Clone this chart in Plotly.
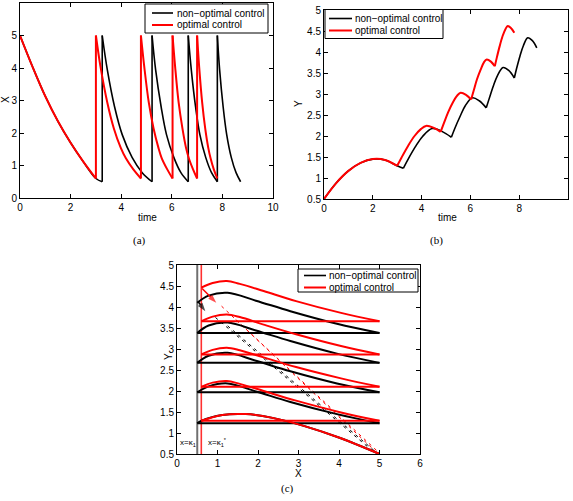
import plotly.graph_objects as go

# ---------------- data ----------------
# optimal control (red): one list per impulse segment
opt_t = [
    [0, 0.5, 1.0, 1.5, 2.0, 2.5, 3.0],
    [3.0, 3.18, 3.45, 3.71, 3.98, 4.18, 4.48, 4.78],
    [4.78, 4.91, 5.09, 5.28, 5.47, 5.6, 5.82, 6.03],
    [6.03, 6.13, 6.27, 6.42, 6.56, 6.67, 6.84, 7.0],
    [7.0, 7.08, 7.2, 7.32, 7.44, 7.53, 7.66, 7.8],
]
opt_x = [
    [5, 4.03, 3.13, 2.36, 1.7, 1.12, 0.6],
    [5, 4.05, 2.94, 2.14, 1.55, 1.23, 0.88, 0.6],
    [5, 4.05, 2.94, 2.14, 1.55, 1.23, 0.88, 0.6],
    [5, 4.05, 2.94, 2.14, 1.55, 1.23, 0.88, 0.6],
    [5, 4.05, 2.94, 2.14, 1.55, 1.23, 0.88, 0.6],
]
opt_y = [
    [0.5, 0.88, 1.17, 1.36, 1.45, 1.43, 1.29],
    [1.29, 1.49, 1.77, 2.0, 2.17, 2.24, 2.2, 2.1],
    [2.1, 2.3, 2.57, 2.8, 2.97, 3.03, 2.98, 2.87],
    [2.87, 3.07, 3.35, 3.58, 3.76, 3.82, 3.77, 3.66],
    [3.66, 3.86, 4.14, 4.38, 4.55, 4.62, 4.57, 4.46],
]
# non-optimal control (black)
non_t = [
    [0, 0.5, 1.0, 1.5, 2.0, 2.5, 3.0, 3.25],
    [3.25, 3.45, 3.74, 4.04, 4.43, 4.83, 5.22],
    [5.22, 5.36, 5.58, 5.79, 6.08, 6.36, 6.65],
    [6.65, 6.77, 6.94, 7.11, 7.34, 7.57, 7.8],
    [7.8, 7.89, 8.03, 8.17, 8.35, 8.54, 8.72],
]
non_x = [
    [5, 4.03, 3.13, 2.36, 1.7, 1.12, 0.6, 0.5],
    [5, 3.95, 2.8, 1.95, 1.25, 0.78, 0.5],
    [5, 3.95, 2.8, 1.95, 1.25, 0.78, 0.5],
    [5, 3.95, 2.8, 1.95, 1.25, 0.78, 0.5],
    [5, 3.95, 2.8, 1.95, 1.25, 0.78, 0.5],
]
non_y = [
    [0.5, 0.88, 1.17, 1.36, 1.45, 1.43, 1.29, 1.23],
    [1.23, 1.45, 1.74, 1.99, 2.18, 2.11, 1.97],
    [1.97, 2.18, 2.47, 2.72, 2.91, 2.84, 2.67],
    [2.67, 2.89, 3.19, 3.44, 3.63, 3.56, 3.38],
    [3.38, 3.6, 3.9, 4.15, 4.34, 4.27, 4.1],
]
# thresholds kappa_1 (non-optimal) and kappa_1* (optimal)
kappa_non = 0.5
kappa_opt = 0.6
# dashed guide lines in panel (c): [x0, x1], [y0, y1]
dash_non = [([0.95, 4.88], [3.75, 0.53]), ([1.25, 4.93], [3.55, 0.53])]
dash_opt = [([1.1, 4.97], [4.02, 0.5]), ([1.45, 5.0], [3.7, 0.52])]
# arrows in panel (c): ([tail x, head x], [tail y, head y])
arrow_non = ([0.52, 0.7], [4.13, 3.9])
arrow_opt = ([0.62, 0.97], [4.44, 4.1])

ticks_a_x = [0, 2, 4, 6, 8, 10]
ticks_a_y = [0, 1, 2, 3, 4, 5, 6]
ticks_b_y = [0.5, 1, 1.5, 2, 2.5, 3, 3.5, 4, 4.5, 5]
ticks_b_y_text = ["0.5", "1", "1.5", "2", "2.5", "3", "3.5", "4", "4.5", "5"]
ticks_c_x = [0, 1, 2, 3, 4, 5, 6]

LEG1 = "non\u2212optimal control"
LEG2 = "optimal control"

# ---------------- figure ----------------
W, H = 573, 501
def px(x):
    return x / W
def py(y):
    return 1 - y / H

RED = "#ff0000"
BLK = "#000000"
FONT = "Liberation Sans, Arial, sans-serif"

fig = go.Figure()

# vertical threshold lines in (c)
fig.add_trace(go.Scatter(x=[kappa_non, kappa_non], y=[0.5, 5], mode="lines",
                         line=dict(color="#707070", width=2), xaxis="x3", yaxis="y3", showlegend=False))
fig.add_trace(go.Scatter(x=[kappa_opt, kappa_opt], y=[0.5, 5], mode="lines",
                         line=dict(color="#ff3030", width=1.6), xaxis="x3", yaxis="y3", showlegend=False))

for xs, ys in dash_non:
    fig.add_trace(go.Scatter(x=xs, y=ys, mode="lines", line=dict(color=BLK, width=1, dash="3px,4px"),
                             xaxis="x3", yaxis="y3", showlegend=False))
for xs, ys in dash_opt:
    fig.add_trace(go.Scatter(x=xs, y=ys, mode="lines", line=dict(color=RED, width=1, dash="3px,4px"),
                             xaxis="x3", yaxis="y3", showlegend=False))


def add_strategy(T, X, Y, color, wa, wc):
    n = len(T)
    for k in range(n):
        sp = dict(color=color, width=wa, shape="spline", smoothing=1)
        fig.add_trace(go.Scatter(x=T[k], y=X[k], mode="lines", line=sp, xaxis="x", yaxis="y", showlegend=False))
        fig.add_trace(go.Scatter(x=T[k], y=Y[k], mode="lines", line=sp, xaxis="x2", yaxis="y2", showlegend=False))
        fig.add_trace(go.Scatter(x=X[k], y=Y[k], mode="lines",
                                 line=dict(color=color, width=wc, shape="spline", smoothing=1),
                                 xaxis="x3", yaxis="y3", showlegend=False))
        if k < n - 1:
            fig.add_trace(go.Scatter(x=[T[k][-1], T[k + 1][0]], y=[X[k][-1], X[k + 1][0]], mode="lines",
                                     line=dict(color=color, width=wa), xaxis="x", yaxis="y", showlegend=False))
            fig.add_trace(go.Scatter(x=[X[k][-1], X[k + 1][0]], y=[Y[k][-1], Y[k + 1][0]], mode="lines",
                                     line=dict(color=color, width=wc), xaxis="x3", yaxis="y3", showlegend=False))


add_strategy(non_t, non_x, non_y, BLK, 1.6, 2)
add_strategy(opt_t, opt_x, opt_y, RED, 2, 2)

# arrows in (c)
for (axs, ays), col in ((arrow_non, BLK), (arrow_opt, RED)):
    fig.add_trace(go.Scatter(x=axs, y=ays, mode="lines+markers", line=dict(color=col, width=1.5),
                             marker=dict(symbol="arrow", angleref="previous", size=[0, 9], color=col,
                                         line=dict(width=0)),
                             xaxis="x3", yaxis="y3", showlegend=False))

axis_common = dict(showline=True, linecolor="black", linewidth=1, mirror="ticks", ticks="inside",
                   ticklen=4, tickcolor="black", showgrid=False, zeroline=False, automargin=False,
                   tickfont=dict(family=FONT, size=10, color="black"))

fig.update_layout(
    width=W, height=H, margin=dict(l=0, r=0, t=0, b=0, autoexpand=False),
    paper_bgcolor="white", plot_bgcolor="white", showlegend=False,
    xaxis=dict(domain=[px(20), px(273)], range=[0, 10], tickvals=ticks_a_x, anchor="y", **axis_common),
    yaxis=dict(domain=[py(198), py(3)], range=[0, 6], tickvals=ticks_a_y, anchor="x", **axis_common),
    xaxis2=dict(domain=[px(324), px(568)], range=[0, 10], tickvals=ticks_a_x, anchor="y2", **axis_common),
    yaxis2=dict(domain=[py(199), py(10)], range=[0.5, 5], tickvals=ticks_b_y, ticktext=ticks_b_y_text,
                anchor="x2", **axis_common),
    xaxis3=dict(domain=[px(177), px(420)], range=[0, 6], tickvals=ticks_c_x, anchor="y3", **axis_common),
    yaxis3=dict(domain=[py(454), py(265)], range=[0.5, 5], tickvals=ticks_b_y, ticktext=ticks_b_y_text,
                anchor="x3", **axis_common),
)

ann = []
shapes = []


def text(x, y, s, size=10, angle=0, xanchor="center", family=FONT):
    ann.append(dict(x=px(x), y=py(y), xref="paper", yref="paper", text=s, showarrow=False,
                    font=dict(family=family, size=size, color="black"), textangle=angle,
                    xanchor=xanchor, yanchor="middle"))


# axis titles
text(147, 217, "time")
text(6, 100, "X", angle=-90)
text(447, 217, "time")
text(299, 104, "Y", angle=-90)
text(298, 473, "X")
text(168, 357, "Y", angle=-90)
# panel captions
SERIF = "Liberation Serif, Times New Roman, serif"
text(139, 240, "(a)", size=11, family=SERIF)
text(436, 240, "(b)", size=11, family=SERIF)
text(287, 488, "(c)", size=11, family=SERIF)
# threshold labels in (c)
text(178, 443, "x=\u03ba<sub>1</sub>", size=8, xanchor="left")
text(206, 442, "x=\u03ba<sub>1</sub><sup>*</sup>", size=8, xanchor="left")


def legend(x0, y0, x1, y1, r1, r2, lx0, lx1, tx):
    shapes.append(dict(type="rect", xref="paper", yref="paper", x0=px(x0), x1=px(x1), y0=py(y1), y1=py(y0),
                       line=dict(color="black", width=1), fillcolor="white", layer="above"))
    shapes.append(dict(type="line", xref="paper", yref="paper", x0=px(lx0), x1=px(lx1), y0=py(r1), y1=py(r1),
                       line=dict(color=BLK, width=1.6), layer="above"))
    shapes.append(dict(type="line", xref="paper", yref="paper", x0=px(lx0), x1=px(lx1), y0=py(r2), y1=py(r2),
                       line=dict(color=RED, width=2), layer="above"))
    text(tx, r1, LEG1, xanchor="left")
    text(tx, r2, LEG2, xanchor="left")


legend(145, 4, 268, 33, 13, 25, 152, 173, 175)
legend(325, 9.5, 443, 38.5, 18.5, 30.5, 329, 352, 353)
legend(298, 269, 418, 292, 275.5, 287.5, 304, 326, 327)

fig.update_layout(annotations=ann, shapes=shapes)
fig.write_html("out.html", config={"displayModeBar": False},
               post_script="document.body.style.margin='0px';")
